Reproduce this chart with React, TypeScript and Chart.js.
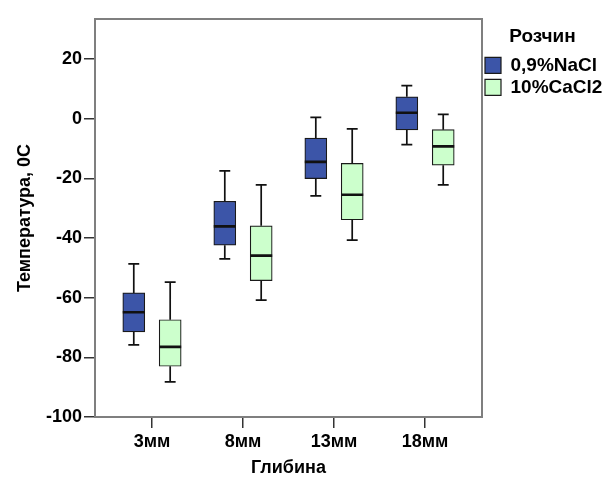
import React, { useEffect, useRef } from "react";
import { Chart, registerables } from "chart.js";

Chart.register(...registerables);

const categories = ["3мм", "8мм", "13мм", "18мм"];
const seriesNames = ["0,9%NaCl", "10%CaCl2"];
const yTickValues = [-100, -80, -60, -40, -20, 0, 20];

// [min, q1, median, q3, max] per category
const naclStats = [
  [-75.8, -71.5, -64.9, -58.4, -48.7],
  [-47.0, -42.4, -36.1, -27.7, -17.5],
  [-25.9, -20.1, -14.5, -6.5, 0.4],
  [-8.7, -3.8, 2.0, 7.3, 11.1],
];
const caclStats = [
  [-88.2, -83.0, -76.5, -67.4, -54.8],
  [-60.8, -54.3, -45.9, -35.9, -22.2],
  [-40.7, -33.9, -25.5, -15.0, -3.4],
  [-22.2, -15.6, -9.3, -3.7, 1.4],
];

const FONT = "'Liberation Sans', Arial, sans-serif";
const GROUP_OFFSET = 0.2;
const HALF_BOX = 0.121;
const HALF_CAP = 0.06;

type Pt = { x: number; y: number | null };

function whiskerPoints(stats: number[][], offset: number): Pt[] {
  const pts: Pt[] = [];
  stats.forEach((s, i) => {
    const x = i + offset;
    const [mn, q1, , q3, mx] = s;
    pts.push({ x, y: q3 }, { x, y: mx }, { x, y: null });
    pts.push({ x: x - HALF_CAP, y: mx }, { x: x + HALF_CAP, y: mx }, { x, y: null });
    pts.push({ x, y: q1 }, { x, y: mn }, { x, y: null });
    pts.push({ x: x - HALF_CAP, y: mn }, { x: x + HALF_CAP, y: mn }, { x, y: null });
  });
  return pts;
}

function medianPoints(stats: number[][], offset: number): Pt[] {
  const pts: Pt[] = [];
  stats.forEach((s, i) => {
    const x = i + offset;
    pts.push({ x: x - HALF_BOX, y: s[2] }, { x: x + HALF_BOX, y: s[2] }, { x, y: null });
  });
  return pts;
}

const framePlugin = {
  id: "frame",
  afterDraw(chart: any) {
    const { ctx, chartArea } = chart;
    ctx.save();
    ctx.strokeStyle = "#7f7f7f";
    ctx.lineWidth = 2;
    ctx.strokeRect(chartArea.left, chartArea.top, chartArea.right - chartArea.left, chartArea.bottom - chartArea.top);
    ctx.restore();
  },
};

export default function App() {
  const ref = useRef<HTMLCanvasElement | null>(null);

  useEffect(() => {
    document.body.style.margin = "0";
    if (!ref.current) return;
    const lineStyle = {
      type: "line" as const,
      borderColor: "#111",
      borderWidth: 1.7,
      pointRadius: 0,
      spanGaps: false,
      fill: false,
      order: 1,
    };
    const chart = new Chart(ref.current, {
      type: "bar",
      data: {
        datasets: [
          {
            label: seriesNames[0],
            data: naclStats.map((s, i) => ({ x: i - GROUP_OFFSET, y: [s[1], s[3]] })) as any,
            backgroundColor: "#3c55a8",
            borderColor: "#1a1a1a",
            borderWidth: 1.2,
            borderSkipped: false,
            barThickness: 22,
            grouped: false,
            order: 2,
          },
          {
            label: seriesNames[1],
            data: caclStats.map((s, i) => ({ x: i + GROUP_OFFSET, y: [s[1], s[3]] })) as any,
            backgroundColor: "#ccffcc",
            borderColor: "#1a1a1a",
            borderWidth: 1.2,
            borderSkipped: false,
            barThickness: 22,
            grouped: false,
            order: 2,
          },
          { ...lineStyle, label: "w1", data: whiskerPoints(naclStats, -GROUP_OFFSET) as any },
          { ...lineStyle, label: "w2", data: whiskerPoints(caclStats, GROUP_OFFSET) as any },
          { ...lineStyle, label: "m1", borderWidth: 2.6, data: medianPoints(naclStats, -GROUP_OFFSET) as any },
          { ...lineStyle, label: "m2", borderWidth: 2.6, data: medianPoints(caclStats, GROUP_OFFSET) as any },
        ] as any,
      },
      options: {
        animation: false,
        responsive: false,
        maintainAspectRatio: false,
        layout: { padding: { top: 19, left: 0, right: 0, bottom: 0 } },
        plugins: {
          tooltip: { enabled: false },
          legend: {
            position: "right",
            align: "start",
            maxWidth: 121,
            title: {
              display: true,
              text: "Розчин",
              color: "#000",
              font: { family: FONT, size: 19, weight: "bold" },
              padding: { top: 8, bottom: 3 },
            },
            labels: {
              filter: (item: any) => item.datasetIndex < 2,
              boxWidth: 16,
              boxHeight: 16,
              padding: 3,
              color: "#000",
              font: { family: FONT, size: 19, weight: "bold" },
            },
          },
        },
        scales: {
          x: {
            type: "linear",
            offset: false,
            min: -0.626,
            max: 3.626,
            afterBuildTicks: (axis: any) => {
              axis.ticks = categories.map((_, i) => ({ value: i }));
            },
            afterFit: (axis: any) => {
              axis.height = 60;
            },
            ticks: {
              callback: (v: any) => categories[v] ?? "",
              color: "#000",
              padding: 3,
              maxRotation: 0,
              autoSkip: false,
              font: { family: FONT, size: 18, weight: "bold" },
            },
            grid: { offset: false, drawOnChartArea: false, drawTicks: true, tickLength: 11, color: "#333", lineWidth: 1.5 },
            border: { display: false },
            title: {
              display: true,
              text: "Глибина",
              color: "#000",
              font: { family: FONT, size: 18, weight: "bold", lineHeight: 1.05 },
              padding: { top: 0, bottom: 0 },
            },
          },
          y: {
            type: "linear",
            min: -100,
            max: 33.4,
            afterBuildTicks: (axis: any) => {
              axis.ticks = yTickValues.map((v) => ({ value: v }));
            },
            afterFit: (axis: any) => {
              axis.width = 95;
            },
            ticks: {
              color: "#000",
              padding: 2,
              font: { family: FONT, size: 18, weight: "bold" },
            },
            grid: { drawOnChartArea: false, drawTicks: true, tickLength: 11, color: "#333", lineWidth: 1.5 },
            border: { display: false },
            title: {
              display: true,
              text: "Температура, 0C",
              color: "#000",
              font: { family: FONT, size: 18, weight: "bold" },
              padding: { top: 14, bottom: 0 },
            },
          },
        },
      } as any,
      plugins: [framePlugin],
    });
    return () => chart.destroy();
  }, []);

  return (
    <div style={{ width: 603, height: 477, background: "#fff" }}>
      <canvas ref={ref} width={603} height={477} style={{ display: "block" }} />
    </div>
  );
}
